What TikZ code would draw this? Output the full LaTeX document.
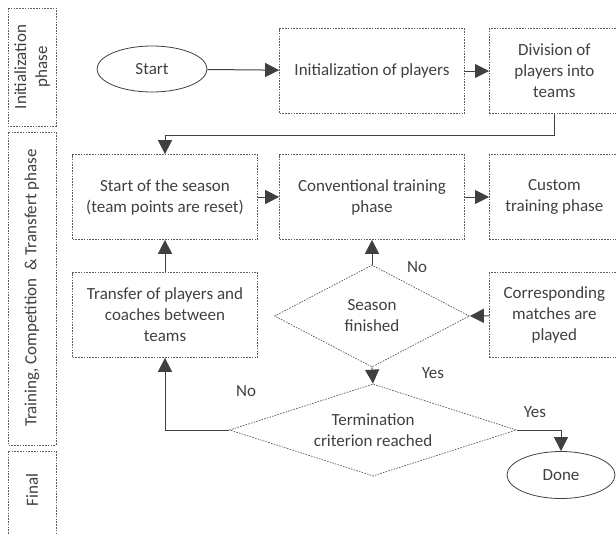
\documentclass[tikz,border=0pt]{standalone}
\usepackage{fontspec}
\setmainfont{Carlito}
\usepackage{xcolor}
\usetikzlibrary{arrows.meta, shapes.geometric, positioning, calc}

\definecolor{ink}{HTML}{404040}

\tikzset{
  dashbox/.style={draw=ink!85, line width=0.7pt, dash pattern=on 1.6pt off 1.2pt,
    minimum width=185pt, minimum height=85pt, align=center, text=ink},
  smallbox/.style={dashbox, minimum width=130pt},
  decision/.style={diamond, draw=ink!85, line width=0.7pt, dash pattern=on 1.6pt off 1.2pt,
    aspect=2, inner sep=0pt, align=center, text=ink},
  terminal/.style={ellipse, draw=ink, line width=0.8pt, minimum width=110pt,
    minimum height=46pt, text=ink},
  flow/.style={draw=ink, line width=1pt, -{Triangle[length=14pt,width=14pt]}},
  phasebox/.style={draw=ink!85, line width=0.7pt, dash pattern=on 1.6pt off 1.2pt},
  lbl/.style={text=ink}
}

\begin{document}
\begin{tikzpicture}[x=1pt, y=-1pt, font=\fontsize{17}{21}\selectfont]
\useasboundingbox (0,0) rectangle (616,533);

% phases
\draw[phasebox] (8,8) rectangle (56,126);
\draw[phasebox] (8,132) rectangle (56,445);
\draw[phasebox] (8,451) rectangle (56,540);
\node[lbl, rotate=90, align=center] (initphase) at (32,67) {Initialization\\phase};
\node[lbl, rotate=90] (trainphase) at (32,288) {Training,\ Competition \ \& Transfert phase};
\node[lbl, rotate=90] (finalphase) at (32,490) {Final};

% top row
\node[terminal] (start) at (152,69) {Start};
\node[dashbox] (init) at (372,71) {Initialization of players};
\node[smallbox, anchor=west] (division) at (489,71) {Division of\\players into\\teams};

% middle row
\node[dashbox] (season) at (165,197) {Start of the season\\(team points are reset)};
\node[dashbox] (conv) at (372,197) {Conventional training\\phase};
\node[smallbox, anchor=west] (custom) at (489,197) {Custom\\training phase};

% third row
\node[dashbox] (transfer) at (165,315) {Transfer of players and\\coaches between\\teams};
\node[decision, minimum width=195pt, minimum height=102pt] (finished) at (372,316) {Season\\finished};
\node[smallbox, anchor=west] (matches) at (489,315) {Corresponding\\matches are\\played};

% bottom
\node[decision, minimum width=287pt, minimum height=84pt] (criterion) at (373,430) {Termination\\criterion reached};
\node[terminal, minimum width=108pt, minimum height=47pt] (done) at (561,475) {Done};

% connectors
\draw[flow] (start) -- (init);
\draw[flow] (init) -- (division);
\draw[flow] (division.south) |- (165,135) -- (season.north);
\draw[flow] (season) -- (conv);
\draw[flow] (conv) -- (custom);
\draw[flow] (transfer) -- (season);
\draw[flow] (matches) -- (finished.east);
\draw[flow] (finished.north) -- (conv.south);
\draw[flow] (finished.south) -- (criterion.north);
\draw[flow] (criterion.east) -| (done.north);
\draw[flow] (criterion.west) -| (transfer.south);

% labels
\node[lbl] (nolbl1) at (417,267) {No};
\node[lbl] (yeslbl1) at (433,373) {Yes};
\node[lbl] (yeslbl2) at (535,412) {Yes};
\node[lbl] (nolbl2) at (246,391) {No};
\end{tikzpicture}
\end{document}
